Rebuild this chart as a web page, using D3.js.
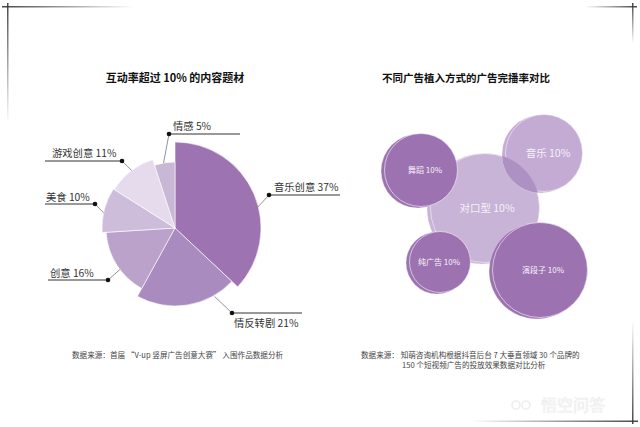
<!DOCTYPE html>
<html><head><meta charset="utf-8">
<script src="https://cdn.jsdelivr.net/npm/d3@7"></script>
<style>
html,body{margin:0;padding:0;background:#fff;}
svg{display:block;font-family:"Noto Sans CJK SC","Noto Sans",sans-serif;}
</style></head>
<body>
<svg id="chart" width="640" height="427"></svg>
<script>
// ---- data ----
const pieTitle = "互动率超过 10% 的内容题材";
const pieCategories = ["音乐创意", "情反转剧", "创意", "美食", "游戏创意", "情感"];
const pieValues = [37, 21, 16, 10, 11, 5];

const bubbleTitle = "不同广告植入方式的广告完播率对比";
const bubbleCategories = ["舞蹈", "音乐", "对口型", "纯广告", "演段子"];
const bubbleValues = [10, 10, 10, 10, 10];

const leftSource = ["数据来源：首届 \u201cV-up 竖屏广告创意大赛\u201d 入围作品数据分析"];
const rightSource = ["数据来源：  知萌咨询机构根据抖音后台 7 大垂直领域 30 个品牌的", "150 个短视频广告的投放效果数据对比分析"];

// ---- styles / layout ----
const pieColors = ["#9d73b1", "#aa8bc0", "#baa2cb", "#cdbdda", "#e5dbed", "#c9b7d6"];
const pieRadii = [86, 78, 69, 73, 72, 66];
const pieCenter = [175, 228];
const pieLabelLayout = [
  {ang: 76, r: 85, dot: [269, 195], line: [269, 340], tx: 274, ty: 191},
  {ang: 150, r: 79, dot: [232, 313], line: [232, 302], tx: 234, ty: 327},
  {ang: 233, r: 69, dot: [108, 280], line: [48, 108], tx: 50, ty: 277},
  {ang: 282, r: 73, dot: [95, 204], line: [45, 95], tx: 46, ty: 201},
  {ang: 323, r: 72, dot: [122, 161], line: [45, 122], tx: 52, ty: 157},
  {ang: 350, r: 66, dot: [169, 134], line: [169, 240], tx: 173, ty: 130}
];
const bubbleLayout = [
  {cx: 421, cy: 170, r: 37, color: "#9d72b1", fs: 8, tdx: 4},
  {cx: 544, cy: 153, r: 39, color: "#c4abd4", fs: 10.5, tdx: 4},
  {cx: 485, cy: 208, r: 55, color: "#c8b4d7", fs: 10.5, tdx: 2},
  {cx: 440, cy: 262, r: 31, color: "#9d72b1", fs: 8, tdx: -1},
  {cx: 540, cy: 270, r: 48, color: "#9d72b1", fs: 8, tdx: 3}
];
const drawOrder = [2, 1, 0, 3, 4];

const svg = d3.select("#chart");
const defs = svg.append("defs");

// ---- frame decorations ----
function grad(id, x1, y1, x2, y2, stops) {
  const g = defs.append("linearGradient").attr("id", id)
    .attr("x1", x1).attr("y1", y1).attr("x2", x2).attr("y2", y2);
  stops.forEach(s => g.append("stop").attr("offset", s[0]).attr("stop-color", "#333").attr("stop-opacity", s[1]));
}
grad("gH1", 0, 0, 1, 0, [[0, 0.9], [1, 0]]);
grad("gV1", 0, 0, 0, 1, [[0, 0.9], [1, 0.0]]);
grad("gH2", 0, 0, 1, 0, [[0, 0], [1, 0.9]]);
grad("gV2", 0, 0, 0, 1, [[0, 0.9], [1, 0]]);
grad("gV3", 0, 0, 0, 1, [[0, 0], [1, 0.9]]);
svg.append("rect").attr("x", 2).attr("y", 6).attr("width", 132).attr("height", 1.5).attr("fill", "url(#gH1)");
svg.append("rect").attr("x", 7).attr("y", 3).attr("width", 1.5).attr("height", 120).attr("fill", "url(#gV1)");
svg.append("rect").attr("x", 585).attr("y", 6).attr("width", 52).attr("height", 1.5).attr("fill", "url(#gH2)");
svg.append("rect").attr("x", 632).attr("y", 3).attr("width", 1.5).attr("height", 40).attr("fill", "url(#gV2)");
svg.append("rect").attr("x", 632).attr("y", 320).attr("width", 1.5).attr("height", 104).attr("fill", "url(#gV3)");
svg.append("rect").attr("x", 470).attr("y", 420.5).attr("width", 168).attr("height", 1.5).attr("fill", "url(#gH2)");

// ---- left: variable radius pie ----
const pie = d3.pie().sort(null).value(d => d).startAngle(0).endAngle(2 * Math.PI);
const arcs = pie(pieValues);
const arc = d3.arc().innerRadius(0);
const gp = svg.append("g").attr("transform", `translate(${pieCenter[0]},${pieCenter[1]})`);
gp.selectAll("path").data(arcs).join("path")
  .attr("d", (d, i) => arc.outerRadius(pieRadii[i])(d))
  .attr("fill", (d, i) => pieColors[i])
  .attr("stroke", "#fff").attr("stroke-width", 0.6);

svg.append("text").attr("x", 175).attr("y", 82).attr("text-anchor", "middle")
  .attr("font-size", 11).attr("font-weight", "bold").attr("fill", "#111").text(pieTitle);

const lbl = svg.append("g");
pieLabelLayout.forEach((L, i) => {
  const a = L.ang * Math.PI / 180;
  const sx = pieCenter[0] + L.r * Math.sin(a), sy = pieCenter[1] - L.r * Math.cos(a);
  lbl.append("line").attr("x1", sx).attr("y1", sy).attr("x2", L.dot[0]).attr("y2", L.dot[1])
    .attr("stroke", "#777").attr("stroke-width", 0.8);
  lbl.append("line").attr("x1", L.line[0]).attr("y1", L.dot[1]).attr("x2", L.line[1]).attr("y2", L.dot[1])
    .attr("stroke", "#333").attr("stroke-width", 1);
  lbl.append("circle").attr("cx", L.dot[0]).attr("cy", L.dot[1]).attr("r", 2.3).attr("fill", "#111");
  lbl.append("text").attr("x", L.tx).attr("y", L.ty).attr("font-size", 10.3).attr("fill", "#333")
    .text(pieCategories[i] + " " + pieValues[i] + "%");
});

// ---- right: bubbles ----
svg.append("text").attr("x", 466).attr("y", 82).attr("text-anchor", "middle")
  .attr("font-size", 10.5).attr("font-weight", "bold").attr("fill", "#111").text(bubbleTitle);

const gb = svg.append("g");
const big = bubbleLayout[2];
defs.append("clipPath").attr("id", "clipBig").append("circle")
  .attr("cx", big.cx).attr("cy", big.cy).attr("r", big.r);

drawOrder.forEach(i => {
  const B = bubbleLayout[i];
  const g = gb.append("g");
  g.append("circle").attr("cx", B.cx - 3).attr("cy", B.cy + 1).attr("r", B.r)
    .attr("fill", B.color).attr("stroke", "#fff").attr("stroke-opacity", 0.5).attr("stroke-width", 0.6);
  g.append("circle").attr("cx", B.cx).attr("cy", B.cy).attr("r", B.r - 0.5)
    .attr("fill", B.color).attr("stroke", "#f4eef8").attr("stroke-opacity", 0.8).attr("stroke-width", 0.8);
  if (i === 1) {
    g.append("circle").attr("cx", B.cx - 3).attr("cy", B.cy + 1).attr("r", B.r)
      .attr("clip-path", "url(#clipBig)").attr("fill", "#ad91c3");
  }
});
drawOrder.forEach(i => {
  const B = bubbleLayout[i];
  gb.append("text").attr("x", B.cx + B.tdx).attr("y", B.cy).attr("dy", "0.35em")
    .attr("text-anchor", "middle").attr("font-size", B.fs).attr("fill", "#f6f1f9")
    .text(bubbleCategories[i] + " " + bubbleValues[i] + "%");
});

// ---- sources ----
svg.append("text").attr("x", 72).attr("y", 358).attr("font-size", 7.6).attr("fill", "#444").text(leftSource[0]);
svg.append("text").attr("x", 361).attr("y", 358).attr("font-size", 7.6).attr("fill", "#444").text(rightSource[0]);
svg.append("text").attr("x", 402).attr("y", 368).attr("font-size", 7.6).attr("fill", "#444").text(rightSource[1]);

// ---- watermark ----
const wm = svg.append("g");
wm.append("circle").attr("cx", 516).attr("cy", 405).attr("r", 4).attr("fill", "none").attr("stroke", "#eeeeee").attr("stroke-width", 1.6);
wm.append("circle").attr("cx", 526).attr("cy", 405).attr("r", 4).attr("fill", "none").attr("stroke", "#eeeeee").attr("stroke-width", 1.6);
wm.append("text").attr("x", 541).attr("y", 411).attr("font-size", 16).attr("fill", "#ffffff")
  .attr("stroke", "#ebebeb").attr("stroke-width", 0.6).text("悟空问答");
</script>
</body></html>
